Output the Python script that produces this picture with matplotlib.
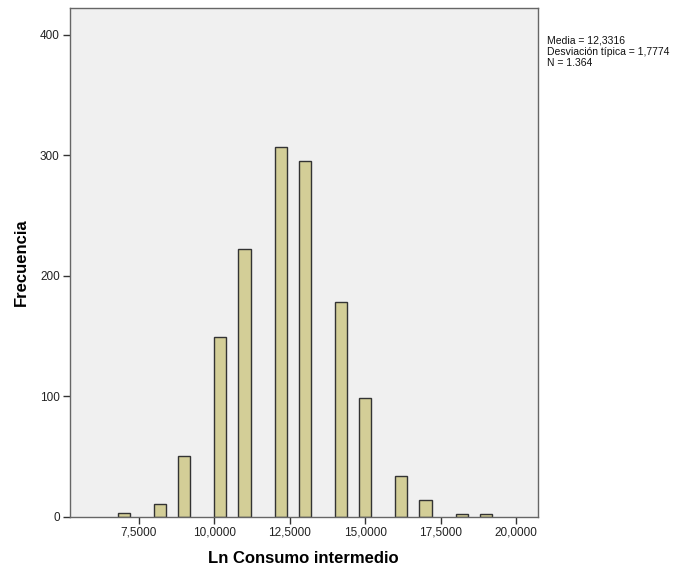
import matplotlib
matplotlib.use("Agg")
import matplotlib.pyplot as plt
import matplotlib.ticker as mticker

# ── Data ─────────────────────────────────────────────────────────────────────
bin_centers = [7.0, 8.2, 9.0, 10.2, 11.0, 12.2, 13.0, 14.2, 15.0, 16.2, 17.0, 18.2, 19.0]
frequencies = [3, 10, 50, 149, 222, 307, 295, 178, 98, 34, 14, 2, 2]
x_ticks = [7.5, 10.0, 12.5, 15.0, 17.5, 20.0]
y_ticks = [0, 100, 200, 300, 400]
stats_text = "Media = 12,3316\nDesviación típica = 1,7774\nN = 1.364"

plt.rcParams["font.family"] = ["Liberation Sans", "DejaVu Sans"]

fig = plt.figure(figsize=(6.96, 5.68), dpi=100)
W, H = 696, 568
left, right, top, bottom = 69.5, 538, 8, 516.5
ax = fig.add_axes([left / W, 1 - bottom / H, (right - left) / W, (bottom - top) / H])
ax.set_facecolor("#F0F0F0")

ax.bar(bin_centers, frequencies, width=0.4, color="#D3CE97",
       edgecolor="#333333", linewidth=1.0, zorder=2)

ax.set_xlim(5.2, 20.73)
ax.set_ylim(0, 422)
ax.set_xticks(x_ticks)
ax.set_yticks(y_ticks)
ax.xaxis.set_major_formatter(mticker.FuncFormatter(lambda v, p: f"{v:.4f}".replace(".", ",")))

for s in ax.spines.values():
    s.set_color("#666666")
    s.set_linewidth(1.0)
ax.tick_params(direction="out", length=5, width=1, color="#333333",
               labelsize=8.5, labelcolor="#222222", pad=2)

ax.set_xlabel("Ln Consumo intermedio", fontsize=12, fontweight="bold", labelpad=9)
ax.set_ylabel("Frecuencia", fontsize=12, fontweight="bold", labelpad=8)

fig.text(547 / W, 1 - 35.5 / H, stats_text, fontsize=7.5, va="top", ha="left",
         linespacing=1.15, color="#111111")

fig.savefig("out.png", dpi=100, facecolor="white")
